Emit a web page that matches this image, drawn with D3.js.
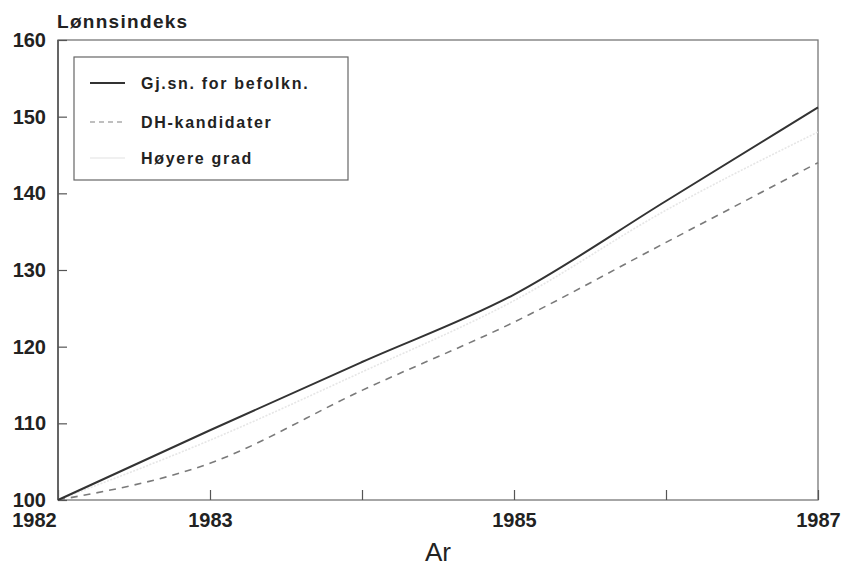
<!DOCTYPE html>
<meta charset="utf-8">
<style>
body { margin: 0; background: #fff; }
text { font-family: "Liberation Sans", Arial, sans-serif; fill: #222; }
.tick line { stroke: #555; stroke-width: 1.2px; }
.tick text { font-size: 20px; font-weight: bold; }
</style>
<body>
<script src="https://d3js.org/d3.v7.min.js"></script>
<script>

// data
var years = [1982, 1983, 1984, 1985, 1986, 1987];
var gjsnitt = [100, 109.1, 118.0, 126.8, 139.0, 151.2];
var dhKand  = [100, 104.8, 114.3, 123.2, 133.6, 144.0];
var hoyere  = [100, 107.8, 116.7, 126.0, 137.8, 148.0];
var yTicks = [100, 110, 120, 130, 140, 150, 160];
var xLabels = [1982, 1983, 1985, 1987];
var seriesNames = ["Gj.sn. for befolkn.", "DH-kandidater", "Høyere grad"];

var width = 845, height = 567;
var plot = {left: 58, right: 818, top: 40, bottom: 500};

var svg = d3.select("body").append("svg")
    .attr("width", width)
    .attr("height", height);

var x = d3.scaleLinear().domain([1982, 1987]).range([plot.left, plot.right]);
var y = d3.scaleLinear().domain([100, 160]).range([plot.bottom, plot.top]);

// frame
svg.append("rect")
    .attr("x", plot.left).attr("y", plot.top)
    .attr("width", plot.right - plot.left).attr("height", plot.bottom - plot.top)
    .attr("fill", "none")
    .attr("stroke", "#777")
    .attr("stroke-width", 1.3);
svg.append("line")
    .attr("x1", plot.left).attr("x2", plot.left).attr("y1", plot.top).attr("y2", plot.bottom)
    .attr("stroke", "#555").attr("stroke-width", 1.6);

// y axis, ticks pointing inward
var yAxis = svg.append("g")
    .attr("transform", "translate(" + plot.left + ",0)")
    .call(d3.axisLeft(y).tickValues(yTicks).tickSizeInner(-9).tickSizeOuter(0).tickPadding(12));
yAxis.select(".domain").remove();

// x axis
var xAxis = svg.append("g")
    .attr("transform", "translate(0," + plot.bottom + ")")
    .call(d3.axisBottom(x).tickValues(years).tickSizeInner(-10).tickSizeOuter(0).tickPadding(13)
      .tickFormat(function(d) { return xLabels.indexOf(d) >= 0 ? d : ""; }));
xAxis.select(".domain").remove();
xAxis.selectAll(".tick text").filter(function(d) { return d == 1982; }).attr("x", -24);

// titles
svg.append("text")
    .attr("x", 57).attr("y", 28)
    .style("font-size", "19px").style("font-weight", "bold").style("letter-spacing", "1.3px")
    .text("Lønnsindeks");
svg.append("text")
    .attr("x", (plot.left + plot.right) / 2).attr("y", 561)
    .attr("text-anchor", "middle")
    .style("font-size", "26px")
    .text("Ar");

// lines
var line = function(vals) {
  return d3.line()
    .x(function(d, i) { return x(years[i]); })
    .y(function(d) { return y(d); })
    .curve(d3.curveMonotoneX)(vals);
};

svg.append("path").attr("d", line(hoyere))
    .attr("fill", "none").attr("stroke", "#e6e6e6").attr("stroke-width", 1.6)
    .attr("stroke-dasharray", "2,1.5");
svg.append("path").attr("d", line(dhKand))
    .attr("fill", "none").attr("stroke", "#7a7a7a").attr("stroke-width", 1.6)
    .attr("stroke-dasharray", "7,6");
svg.append("path").attr("d", line(gjsnitt))
    .attr("fill", "none").attr("stroke", "#333").attr("stroke-width", 2);

// legend
var lg = svg.append("g");
lg.append("rect")
    .attr("x", 74).attr("y", 57).attr("width", 274).attr("height", 123)
    .attr("fill", "#fff").attr("stroke", "#666").attr("stroke-width", 1.2);
var lgStyles = [
  {stroke: "#333", dash: null, w: 2},
  {stroke: "#aaa", dash: "5,4", w: 1.4},
  {stroke: "#ebebeb", dash: null, w: 1.6}
];
var rowY = [83, 122, 158];
seriesNames.forEach(function(name, i) {
  lg.append("line")
      .attr("x1", 90).attr("x2", 125).attr("y1", rowY[i]).attr("y2", rowY[i])
      .attr("stroke", lgStyles[i].stroke).attr("stroke-width", lgStyles[i].w)
      .attr("stroke-dasharray", lgStyles[i].dash);
  lg.append("text")
      .attr("x", 141).attr("y", rowY[i]).attr("dy", "0.36em")
      .style("font-size", "16px").style("font-weight", "bold").style("letter-spacing", "1.7px")
      .text(name);
});

</script>
</body>
